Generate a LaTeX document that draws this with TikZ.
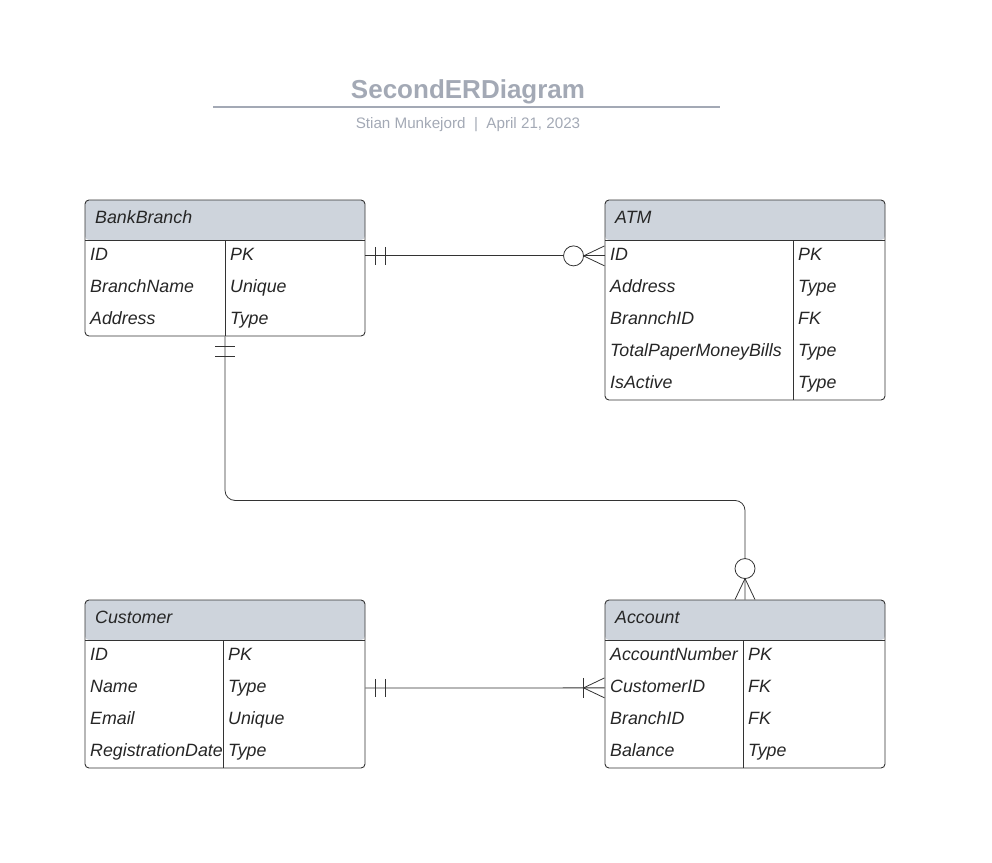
\documentclass[tikz,border=0pt]{standalone}
\usepackage{fontspec}
\setmainfont{Liberation Sans}
\usetikzlibrary{calc}
\definecolor{headgray}{RGB}{206,212,220}
\definecolor{titlegray}{RGB}{163,169,181}
\definecolor{edgegray}{RGB}{51,51,51}

\begin{document}
\begin{tikzpicture}[x=1pt, y=-1pt,
	entity/.style={draw=edgegray, line width=0.9pt, rounded corners=4pt, inner sep=0pt, minimum width=280pt,
		path picture={\fill[headgray] (path picture bounding box.north west) rectangle ([yshift=-40pt]path picture bounding box.north east);}},
	field/.style={anchor=base west, inner sep=0pt, font=\fontsize{17.8}{20}\selectfont\itshape, text=black!85},
	rel/.style={draw=edgegray, line width=0.8pt}]
				\useasboundingbox (0,0) rectangle (992,862);

				% Title
				\node[font=\bfseries\fontsize{26}{30}\selectfont, text=titlegray] (title) at (468,92) {SecondERDiagram};
				\draw[titlegray, line width=1.5pt] (213,107) -- (720,107);
				\node[font=\fontsize{15.2}{18}\selectfont, text=titlegray] (subtitle) at (468,125) {Stian Munkejord\ \ |\ \ April 21, 2023};

				% Tables
				\node[entity, minimum height=136pt] (branch) at (225,268) {};
				\node[entity, minimum height=200pt] (atm) at (745,300) {};
				\node[entity, minimum height=168pt] (customer) at (225,684) {};
				\node[entity, minimum height=168pt] (account) at (745,684) {};

				% Header lines and columns
				\draw[edgegray, line width=0.9pt] (85,240) -- (365,240);
				\draw[edgegray, line width=0.9pt] (225,240) -- (225,336);
				\draw[edgegray, line width=0.9pt] (605,240) -- (885,240);
				\draw[edgegray, line width=0.9pt] (793,240) -- (793,400);
				\draw[edgegray, line width=0.9pt] (85,640) -- (365,640);
				\draw[edgegray, line width=0.9pt] (223,640) -- (223,768);
				\draw[edgegray, line width=0.9pt] (605,640) -- (885,640);
				\draw[edgegray, line width=0.9pt] (743,640) -- (743,768);

				% BankBranch
				\node[field] (branch-head) at (95,223) {BankBranch};
				\node[field] (branch-id) at (90,260) {ID};
				\node[field] at (230,260) {PK};
				\node[field] at (90,292) {BranchName};
				\node[field] at (230,292) {Unique};
				\node[field] at (90,324) {Address};
				\node[field] at (230,324) {Type};

				% ATM
				\node[field] (atm-head) at (615,223) {ATM};
				\node[field] (atm-id) at (610,260) {ID};
				\node[field] at (798,260) {PK};
				\node[field] at (610,292) {Address};
				\node[field] at (798,292) {Type};
				\node[field] at (610,324) {BrannchID};
				\node[field] at (798,324) {FK};
				\node[field] at (610,356) {TotalPaperMoneyBills};
				\node[field] at (798,356) {Type};
				\node[field] at (610,388) {IsActive};
				\node[field] at (798,388) {Type};

				% Customer
				\node[field] (customer-head) at (95,623) {Customer};
				\node[field] at (90,660) {ID};
				\node[field] at (228,660) {PK};
				\node[field] (customer-name) at (90,692) {Name};
				\node[field] at (228,692) {Type};
				\node[field] at (90,724) {Email};
				\node[field] at (228,724) {Unique};
				\node[field] at (90,756) {RegistrationDate};
				\node[field] at (228,756) {Type};

				% Account
				\node[field] (account-head) at (615,623) {Account};
				\node[field] at (610,660) {AccountNumber};
				\node[field] at (748,660) {PK};
				\node[field] (account-cust) at (610,692) {CustomerID};
				\node[field] at (748,692) {FK};
				\node[field] at (610,724) {BranchID};
				\node[field] at (748,724) {FK};
				\node[field] at (610,756) {Balance};
				\node[field] at (748,756) {Type};

				% BankBranch -- ATM (one to zero or many)
				\coordinate (b1) at ([yshift=-2pt]branch.east |- branch-id);
				\coordinate (a1) at ([yshift=-2pt]atm.west |- atm-id);
				\draw[rel] (b1) -- (a1);
				\draw[rel] ($(b1)+(10,-9)$) -- ($(b1)+(10,9)$);
				\draw[rel] ($(b1)+(20,-9)$) -- ($(b1)+(20,9)$);
				\draw[rel, fill=white] ($(a1)+(-31,0)$) circle (10pt);
				\draw[rel] ($(a1)+(0,-10)$) -- ($(a1)+(-21,0)$) -- ($(a1)+(0,10)$);

				% BankBranch -- Account (one to zero or many)
				\draw[rel, rounded corners=10pt] (branch.south) -- ++(0,164) -| (account.north);
				\draw[rel] ($(branch.south)+(-10,10)$) -- ($(branch.south)+(10,10)$);
				\draw[rel] ($(branch.south)+(-10,20)$) -- ($(branch.south)+(10,20)$);
				\draw[rel, fill=white] ($(account.north)+(0,-31)$) circle (10pt);
				\draw[rel] ($(account.north)+(-10,0)$) -- ($(account.north)+(0,-21)$) -- ($(account.north)+(10,0)$);

				% Customer -- Account (one to one or many)
				\coordinate (c2) at ([yshift=-2pt]customer.east |- customer-name);
				\coordinate (a2) at ([yshift=-2pt]account.west |- account-cust);
				\draw[rel] (c2) -- (a2);
				\draw[rel] ($(c2)+(10,-9)$) -- ($(c2)+(10,9)$);
				\draw[rel] ($(c2)+(20,-9)$) -- ($(c2)+(20,9)$);
				\draw[rel] ($(a2)+(-21,-10)$) -- ($(a2)+(-21,10)$);
				\draw[rel] ($(a2)+(0,-10)$) -- ($(a2)+(-21,0)$) -- ($(a2)+(0,10)$);
			\end{tikzpicture}
\end{document}
